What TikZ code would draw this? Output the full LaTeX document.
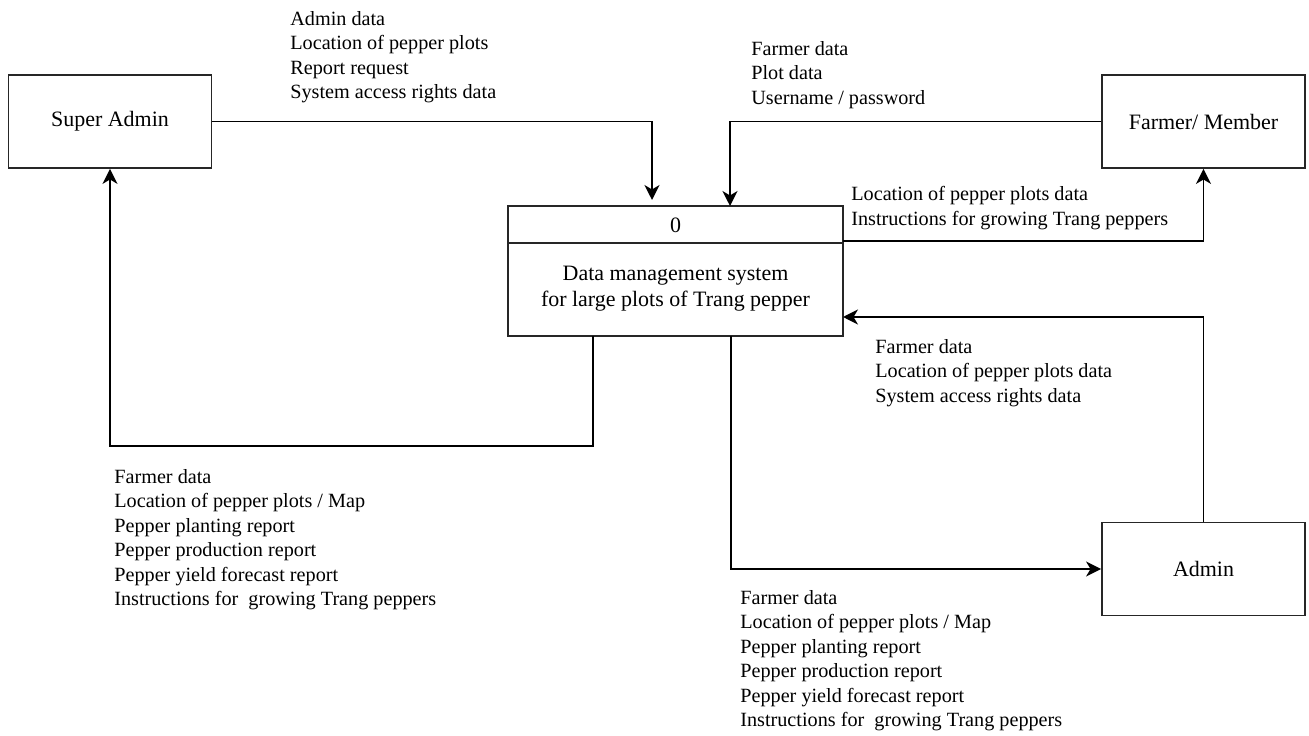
\documentclass[tikz,border=0pt]{standalone}
\usepackage{fontspec}
\setmainfont{Liberation Serif}
\newfontfamily\dfdfont{Liberation Serif}
\usetikzlibrary{arrows.meta}
\begin{document}
\begin{tikzpicture}[x=0.02cm,y=-0.02cm,
  every node/.style={font=\dfdfont},
  entity/.style={draw=black!85, line width=1.1pt, minimum width=4.06cm, minimum height=1.86cm,
    font=\dfdfont\fontsize{12.5}{15}\selectfont, inner sep=0pt},
  procbox/.style={draw=black!85, line width=1.1pt, minimum width=6.7cm, minimum height=2.6cm, inner sep=0pt},
  flow/.style={line width=1.1pt, -{Stealth[length=8.5pt,width=8.5pt,inset=2.5pt]}},
  flowlabel/.style={anchor=north west, align=left, inner sep=0pt,
    font=\dfdfont\fontsize{11.5}{13.95}\selectfont},
  proctext/.style={align=center, inner sep=0pt, font=\dfdfont\fontsize{12.5}{14.7}\selectfont}]
\useasboundingbox (0,0) rectangle (1309,736);

% external entities
\node[entity] (sa) at (110,121.5) {Super Admin};
\node[entity] (fm) at (1203.5,121.5) {Farmer/ Member};
\node[entity] (ad) at (1203.5,569) {Admin};

% process 0
\node[procbox] (p) at (675.5,271) {};
\coordinate (divl) at (508,243);
\coordinate (divr) at (843,243);
\draw[line width=1.1pt, black!85] (divl) -- (divr);
\node[proctext] (pnum) at (675.5,225) {0};
\node[proctext] (pname) at (675.5,289) {Data management system\\for large plots of Trang pepper};

% connector end points on the process box
\coordinate (a1) at (652,200);
\coordinate (a2) at (730,206);
\coordinate (a3) at (843,241);
\coordinate (a4) at (843,317);
\coordinate (a5) at (593,336);
\coordinate (b5) at (593,446);
\coordinate (a6) at (731,336);

% data flows
\draw[flow] (sa.east) -| (a1);
\draw[flow] (fm.west) -| (a2);
\draw[flow] (a3) -| (fm.south);
\draw[flow] (ad.north) |- (a4);
\draw[flow] (a5) -- (b5) -| (sa.south);
\draw[flow] (a6) |- (ad.west);

% flow labels
\node[flowlabel] (l1) at (290,11) {Admin data\\Location of pepper plots\\Report request\\System access rights data};
\node[flowlabel] (l2) at (751,41) {Farmer data\\Plot data\\Username / password};
\node[flowlabel] (l3) at (851,186) {Location of pepper plots data\\Instructions for growing Trang peppers};
\node[flowlabel] (l4) at (875,339) {Farmer data\\Location of pepper plots data\\System access rights data};
\node[flowlabel] (l5) at (114,469) {Farmer data\\Location of pepper plots / Map\\Pepper planting report\\Pepper production report\\Pepper yield forecast report\\Instructions for\ \ growing Trang peppers};
\node[flowlabel] (l6) at (740,590) {Farmer data\\Location of pepper plots / Map\\Pepper planting report\\Pepper production report\\Pepper yield forecast report\\Instructions for\ \ growing Trang peppers};
\end{tikzpicture}
\end{document}
